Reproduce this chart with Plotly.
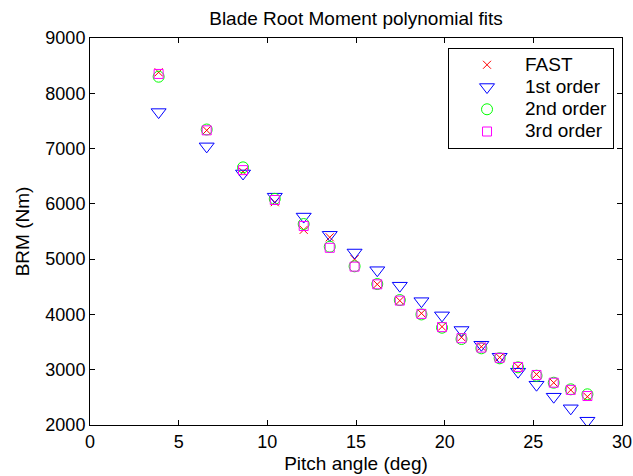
import plotly.graph_objects as go

pitch = [3.87, 6.58, 8.63, 10.42, 12.05, 13.52, 14.92, 16.2, 17.47, 18.69,
         19.85, 20.95, 22.07, 23.1, 24.14, 25.18, 26.15, 27.11, 28.05]
fast = [8380, 7330, 6580, 6030, 5530, 5395, 5000, 4545, 4250, 4020,
        3778, 3586, 3416, 3224, 3054, 2916, 2765, 2633, 2512]
fit1 = [7660, 7040, 6550, 6130, 5770, 5440, 5120, 4800, 4520, 4240,
        3983, 3718, 3452, 3235, 2964, 2729, 2512, 2302, 2078]
fit2 = [8300, 7345, 6660, 6090, 5635, 5225, 4870, 4550, 4260, 4000,
        3760, 3555, 3387, 3206, 3043, 2892, 2765, 2645, 2555]
fit3 = [8350, 7330, 6610, 6070, 5600, 5205, 4865, 4545, 4250, 4010,
        3770, 3570, 3400, 3215, 3050, 2905, 2765, 2635, 2524]
series_names = ["FAST", "1st order", "2nd order", "3rd order"]
x_ticks = [0, 5, 10, 15, 20, 25, 30]
y_ticks = [2000, 3000, 4000, 5000, 6000, 7000, 8000, 9000]

FONT = "Liberation Sans, Arial, Helvetica, sans-serif"


def legend_label(s):
    return '<span style="font-size:19px">' + s + '</span>'


styles = [
    dict(symbol="x-thin-open", size=8, color="#ff0000"),
    dict(symbol="triangle-down-open", size=13, color="#0000ff"),
    dict(symbol="circle-open", size=11, color="#00ff00"),
    dict(symbol="square-open", size=9, color="#ff00ff"),
]

fig = go.Figure()
for name, ys, st in zip(series_names, [fast, fit1, fit2, fit3], styles):
    fig.add_trace(go.Scatter(
        x=pitch, y=ys, mode="markers", name=legend_label(name),
        marker=dict(symbol=st["symbol"], size=st["size"], color=st["color"],
                    line=dict(color=st["color"], width=1))))

axis_common = dict(showline=True, linecolor="black", linewidth=1, mirror="ticks",
                   ticks="inside", ticklen=5, tickcolor="black", tickwidth=1,
                   showgrid=False, zeroline=False, automargin=False,
                   tickfont=dict(family=FONT, size=18, color="black"))

fig.update_layout(
    width=633, height=476,
    margin=dict(l=90, r=11, t=38, b=51, autoexpand=False),
    paper_bgcolor="white", plot_bgcolor="white",
    title=dict(text="Blade Root Moment polynomial fits", x=0.5, xref="paper",
               xanchor="center", y=1 - 18 / 476, yref="container", yanchor="middle",
               font=dict(family=FONT, size=19, color="black")),
    xaxis=dict(range=[0, 30], tickvals=x_ticks,
               title=dict(text="Pitch angle (deg)", standoff=6,
                          font=dict(family=FONT, size=19, color="black")),
               **axis_common),
    yaxis=dict(range=[2000, 9000], tickvals=y_ticks,
               title=dict(text="BRM (Nm)", standoff=10,
                          font=dict(family=FONT, size=19, color="black")),
               **axis_common),
    legend=dict(x=0.985, y=0.975, xanchor="right", yanchor="top",
                bgcolor="white", bordercolor="black", borderwidth=1,
                itemwidth=66, font=dict(family=FONT, size=14.8, color="black")),
    showlegend=True,
)

fig.write_html("out.html", config={"displayModeBar": False},
               post_script="document.body.style.margin='0px';")
